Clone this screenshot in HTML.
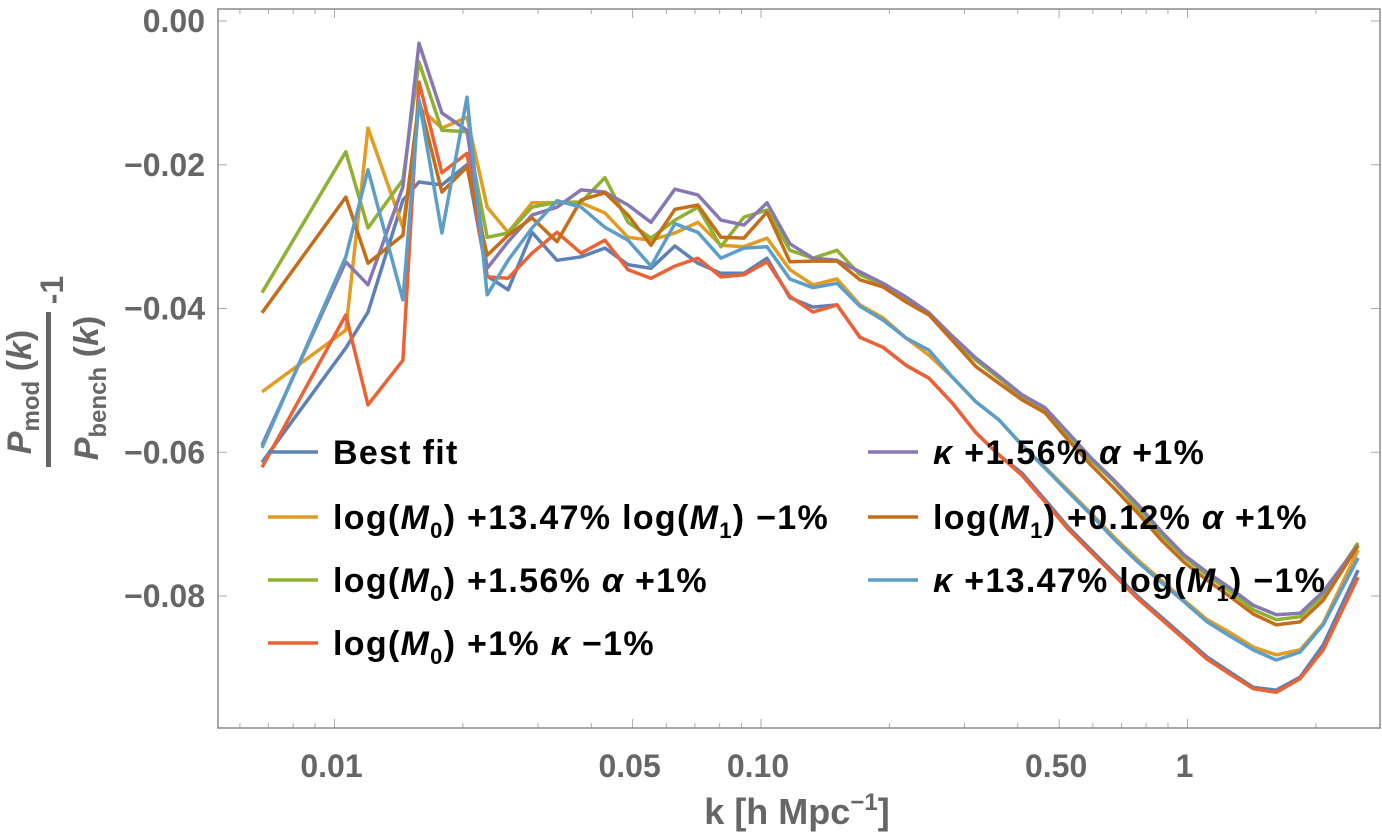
<!DOCTYPE html>
<html><head><meta charset="utf-8"><style>
html,body{margin:0;padding:0;background:#fff;}
svg{display:block;font-family:"Liberation Sans",sans-serif;}
</style></head><body>
<svg id="chart" width="1382" height="839" viewBox="0 0 1382 839">
<rect x="0" y="0" width="1382" height="839" fill="#fff"/>
<g id="ticks"></g>
<g id="series"></g>
<rect x="218" y="9" width="1162" height="719" fill="none" stroke="#8a8a8a" stroke-width="1.5"/>
<g id="ylabels" font-weight="bold" font-size="32" fill="#666" text-anchor="end"></g>
<g id="xlabels" font-weight="bold" font-size="32" fill="#666" text-anchor="middle"></g>
<text x="797" y="824" font-size="36" font-weight="bold" fill="#666" text-anchor="middle">k [h Mpc<tspan font-size="24" dy="-14">−1</tspan><tspan dy="14">]</tspan></text>
<g fill="#666" font-weight="bold">
  <text transform="translate(31,392) rotate(-90)" font-size="34" text-anchor="middle"><tspan font-style="italic">P</tspan><tspan font-size="24" dy="8">mod</tspan><tspan dy="-8"> (</tspan><tspan font-style="italic">k</tspan>)</text>
  <rect x="46" y="312" width="5" height="155" fill="#666"/>
  <text transform="translate(98,388) rotate(-90)" font-size="34" text-anchor="middle"><tspan font-style="italic">P</tspan><tspan font-size="24" dy="8">bench</tspan><tspan dy="-8"> (</tspan><tspan font-style="italic">k</tspan>)</text>
  <text transform="translate(63,290) rotate(-90)" font-size="32" text-anchor="middle">-1</text>
</g>
<g id="legend" font-weight="bold" font-size="34" letter-spacing="1.3" fill="#000"></g>
</svg>
<script>
const kValues=[0.00676,0.01063,0.01198,0.01447,0.01578,0.01786,0.02045,0.0228,0.02553,0.02904,0.03325,0.03786,0.04306,0.04877,0.05521,0.06281,0.07112,0.08054,0.0912,0.1033,0.1169,0.1324,0.1507,0.1706,0.1932,0.2188,0.2477,0.2805,0.3192,0.3614,0.4093,0.4634,0.5248,0.5943,0.673,0.7656,0.867,0.9817,1.112,1.259,1.426,1.614,1.837,2.08,2.512];
const bestFit=[-0.0614,-0.0455,-0.0405,-0.0249,-0.0224,-0.0228,-0.0200,-0.0355,-0.0374,-0.0294,-0.0333,-0.0328,-0.0316,-0.0339,-0.0344,-0.0313,-0.0337,-0.0351,-0.0351,-0.0330,-0.0385,-0.0398,-0.0395,-0.0440,-0.0454,-0.0479,-0.0497,-0.0531,-0.0573,-0.0604,-0.0629,-0.0666,-0.0704,-0.0736,-0.0768,-0.0801,-0.0829,-0.0857,-0.0885,-0.0906,-0.0927,-0.0931,-0.0913,-0.0868,-0.0764];
const m0M1=[-0.0516,-0.0430,-0.0149,-0.0287,-0.0120,-0.0149,-0.0134,-0.0259,-0.0294,-0.0253,-0.0253,-0.0253,-0.0267,-0.0301,-0.0305,-0.0295,-0.0280,-0.0312,-0.0314,-0.0302,-0.0346,-0.0367,-0.0359,-0.0395,-0.0413,-0.0441,-0.0465,-0.0495,-0.0530,-0.0555,-0.0590,-0.0621,-0.0653,-0.0685,-0.0718,-0.0750,-0.0778,-0.0806,-0.0833,-0.0851,-0.0871,-0.0882,-0.0875,-0.0838,-0.0736];
const m0Alpha=[-0.0378,-0.0182,-0.0288,-0.0221,-0.0057,-0.0152,-0.0154,-0.0301,-0.0295,-0.0259,-0.0252,-0.0252,-0.0218,-0.0280,-0.0302,-0.0277,-0.0259,-0.0314,-0.0273,-0.0263,-0.0319,-0.0330,-0.0319,-0.0353,-0.0367,-0.0388,-0.0406,-0.0441,-0.0472,-0.0497,-0.0523,-0.0541,-0.0576,-0.0611,-0.0641,-0.0678,-0.0715,-0.0746,-0.0771,-0.0794,-0.0819,-0.0833,-0.0829,-0.0799,-0.0726];
const m0Kappa=[-0.0621,-0.0409,-0.0534,-0.0472,-0.0085,-0.0211,-0.0184,-0.0356,-0.0358,-0.0323,-0.0294,-0.0323,-0.0305,-0.0346,-0.0358,-0.0341,-0.0330,-0.0356,-0.0353,-0.0335,-0.0383,-0.0405,-0.0395,-0.0440,-0.0454,-0.0479,-0.0497,-0.0531,-0.0573,-0.0604,-0.0632,-0.0669,-0.0707,-0.0739,-0.0771,-0.0804,-0.0832,-0.0860,-0.0888,-0.0909,-0.0929,-0.0934,-0.0915,-0.0875,-0.0774];
const kappaAlpha=[-0.0590,-0.0335,-0.0367,-0.0231,-0.0031,-0.0128,-0.0152,-0.0344,-0.0307,-0.0270,-0.0259,-0.0235,-0.0238,-0.0256,-0.0280,-0.0234,-0.0242,-0.0277,-0.0284,-0.0253,-0.0310,-0.0330,-0.0333,-0.0349,-0.0365,-0.0384,-0.0406,-0.0438,-0.0469,-0.0494,-0.0520,-0.0538,-0.0573,-0.0608,-0.0639,-0.0673,-0.0710,-0.0743,-0.0767,-0.0789,-0.0813,-0.0826,-0.0824,-0.0794,-0.0729];
const m1Alpha=[-0.0406,-0.0245,-0.0337,-0.0298,-0.0110,-0.0238,-0.0203,-0.0326,-0.0298,-0.0274,-0.0307,-0.0249,-0.0239,-0.0270,-0.0312,-0.0262,-0.0256,-0.0301,-0.0302,-0.0266,-0.0335,-0.0334,-0.0334,-0.0360,-0.0370,-0.0391,-0.0409,-0.0444,-0.0481,-0.0504,-0.0527,-0.0545,-0.0583,-0.0618,-0.0650,-0.0685,-0.0722,-0.0753,-0.0778,-0.0801,-0.0825,-0.0840,-0.0836,-0.0806,-0.0730];
const kappaM1=[-0.0594,-0.0328,-0.0207,-0.0388,-0.0110,-0.0295,-0.0106,-0.0381,-0.0333,-0.0288,-0.0250,-0.0259,-0.0287,-0.0305,-0.0341,-0.0282,-0.0294,-0.0330,-0.0316,-0.0314,-0.0359,-0.0371,-0.0365,-0.0397,-0.0416,-0.0441,-0.0458,-0.0495,-0.0530,-0.0555,-0.0590,-0.0622,-0.0655,-0.0687,-0.0721,-0.0753,-0.0781,-0.0808,-0.0836,-0.0856,-0.0875,-0.0889,-0.0878,-0.0840,-0.0747];
const yTickValues=[0,-0.02,-0.04,-0.06,-0.08];
const yTickLabels=["0.00","\u22120.02","\u22120.04","\u22120.06","\u22120.08"];
const xTickValues=[0.01,0.05,0.1,0.5,1];
const xTickLabels=["0.01","0.05","0.10","0.50","1"];

const NS="http://www.w3.org/2000/svg";
function xs(k){return 334.5+426.5*(Math.log10(k)+2);}
function ys(v){return 21-v*7187.5;}
function mk(tag,attrs,parent){const e=document.createElementNS(NS,tag);for(const a in attrs)e.setAttribute(a,attrs[a]);parent.appendChild(e);return e;}

const tickG=document.getElementById('ticks');
const minorK=[0.006,0.007,0.008,0.009,0.02,0.03,0.04,0.06,0.07,0.08,0.09,0.2,0.3,0.4,0.6,0.7,0.8,0.9,2];
minorK.forEach(k=>{const x=xs(k);
  const t=mk('line',{x1:x,x2:x,y1:728,y2:723,stroke:'#aaa','stroke-width':1},tickG);
  
  
  const t2=mk('line',{x1:x,x2:x,y1:9,y2:14,stroke:'#aaa','stroke-width':1},tickG);
  
  
});
const xl=document.getElementById('xlabels');
xTickValues.forEach((k,i)=>{const x=xs(k);
  const t=mk('line',{x1:x,x2:x,y1:728,y2:719,stroke:'#aaa','stroke-width':1},tickG);
  
  
  const t2=mk('line',{x1:x,x2:x,y1:9,y2:18,stroke:'#aaa','stroke-width':1},tickG);
  
  
  const l=mk('text',{x:x-3,y:777},xl);l.textContent=xTickLabels[i];
  
  
});
const yl=document.getElementById('ylabels');
yTickValues.forEach((v,i)=>{const y=ys(v);
  const t=mk('line',{x1:218,x2:227,y1:y,y2:y,stroke:'#aaa','stroke-width':1},tickG);
  
  
  const t2=mk('line',{x1:1380,x2:1371,y1:y,y2:y,stroke:'#aaa','stroke-width':1},tickG);
  
  
  const l=mk('text',{x:205,y:y+11},yl);l.textContent=yTickLabels[i];
  
  
});

const seriesList=[
 {d:bestFit,c:'#5E81B5',n:'series-best-fit'},
 {d:m0M1,c:'#E19C24',n:'series-logm0-logm1'},
 {d:m0Alpha,c:'#8FB032',n:'series-logm0-alpha'},
 {d:m0Kappa,c:'#EB6235',n:'series-logm0-kappa'},
 {d:kappaAlpha,c:'#8778B3',n:'series-kappa-alpha'},
 {d:m1Alpha,c:'#C56E1A',n:'series-logm1-alpha'},
 {d:kappaM1,c:'#5D9EC7',n:'series-kappa-logm1'}];
const sg=document.getElementById('series');
seriesList.forEach(s=>{
  const pts=s.d.map((v,i)=>xs(kValues[i]).toFixed(1)+','+ys(v).toFixed(1)).join(' ');
  const p=mk('polyline',{points:pts,fill:'none',stroke:s.c,'stroke-width':3.5,'stroke-linejoin':'round'},sg);
  
  
});

const lg=document.getElementById('legend');
const entries=[
 {x:268,y:452,c:'#5E81B5',h:'Best fit'},
 {x:268,y:517,c:'#E19C24',h:'log(<tspan font-style="italic">M</tspan><tspan font-size="22" dy="9">0</tspan><tspan dy="-9">) +13.47% log(</tspan><tspan font-style="italic">M</tspan><tspan font-size="22" dy="9">1</tspan><tspan dy="-9">) \u22121%</tspan>'},
 {x:268,y:580,c:'#8FB032',h:'log(<tspan font-style="italic">M</tspan><tspan font-size="22" dy="9">0</tspan><tspan dy="-9">) +1.56% </tspan><tspan font-style="italic">\u03B1</tspan> +1%'},
 {x:268,y:643,c:'#EB6235',h:'log(<tspan font-style="italic">M</tspan><tspan font-size="22" dy="9">0</tspan><tspan dy="-9">) +1% </tspan><tspan font-style="italic">\u03BA</tspan> \u22121%'},
 {x:868,y:452,c:'#8778B3',h:'<tspan font-style="italic">\u03BA</tspan> +1.56% <tspan font-style="italic">\u03B1</tspan> +1%'},
 {x:868,y:517,c:'#C56E1A',h:'log(<tspan font-style="italic">M</tspan><tspan font-size="22" dy="9">1</tspan><tspan dy="-9">) +0.12% </tspan><tspan font-style="italic">\u03B1</tspan> +1%'},
 {x:868,y:580,c:'#5D9EC7',h:'<tspan font-style="italic">\u03BA</tspan> +13.47% log(<tspan font-style="italic">M</tspan><tspan font-size="22" dy="9">1</tspan><tspan dy="-9">) \u22121%</tspan>'}];
entries.forEach(e=>{
  const g=mk('g',{},lg);
  
  
  const l=mk('line',{x1:e.x,x2:e.x+50,y1:e.y,y2:e.y,stroke:e.c,'stroke-width':3.5},g);
  
  
  const t=mk('text',{x:e.x+65,y:e.y+12},g);
  t.innerHTML=e.h;
  
  
});
</script>
</body></html>
